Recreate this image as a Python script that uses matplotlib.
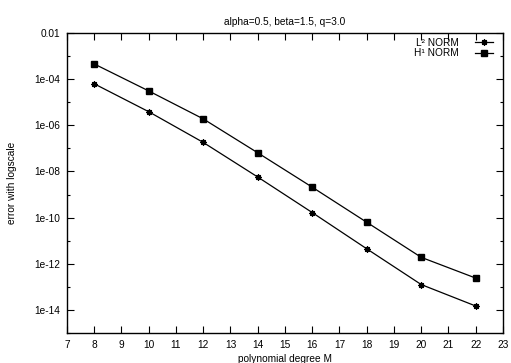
import numpy as np
import matplotlib.pyplot as plt
from matplotlib.ticker import FixedLocator, NullFormatter

plt.rcParams['font.family'] = ['Liberation Sans', 'DejaVu Sans']

# datos
M = [8, 10, 12, 14, 16, 18, 20, 22]
log_l2 = [-4.20, -5.41, -6.74, -8.24, -9.78, -11.35, -12.90, -13.83]
log_h1 = [-3.34, -4.51, -5.72, -7.19, -8.68, -10.20, -11.72, -12.62]

err_l2 = 10.0 ** np.array(log_l2)
err_h1 = 10.0 ** np.array(log_h1)

ytick_vals = [1e-2, 1e-4, 1e-6, 1e-8, 1e-10, 1e-12, 1e-14]
ytick_labels = ["0.01", "1e-04", "1e-06", "1e-08", "1e-10", "1e-12", "1e-14"]

fs = 7.3

fig = plt.figure(figsize=(5.11, 3.63), dpi=100)
ax = fig.add_axes([0.1311, 0.0826, 0.8532, 0.8264])

ax.plot(M, err_l2, color='black', lw=0.9, marker=(8, 2, 0), ms=4.5, mew=0.9,
        label="L² NORM")
ax.plot(M, err_h1, color='black', lw=0.9, marker='s', ms=4,
        label="H¹ NORM")

ax.set_yscale('log')
ax.set_xlim(7, 23)
ax.set_ylim(1e-15, 1e-2)
ax.set_xticks(range(7, 24))
ax.set_yticks(ytick_vals)
ax.set_yticklabels(ytick_labels)
ax.yaxis.set_minor_locator(FixedLocator([1e-3, 1e-5, 1e-7, 1e-9, 1e-11, 1e-13, 1e-15]))
ax.yaxis.set_minor_formatter(NullFormatter())

ax.tick_params(which='both', direction='in', top=True, right=True,
               labelsize=fs, width=0.8, pad=5)
ax.tick_params(which='major', length=5)
ax.tick_params(which='minor', length=2.5)

for s in ax.spines.values():
    s.set_linewidth(1.0)

ax.set_title("alpha=0.5, beta=1.5, q=3.0", fontsize=fs, pad=6)
ax.set_xlabel("polynomial degree M", fontsize=fs, labelpad=3)
ax.set_ylabel("error with logscale", fontsize=fs, labelpad=12)

ax.legend(loc='upper right', bbox_to_anchor=(0.984, 0.995), fontsize=fs,
          frameon=False, markerfirst=False,
          handlelength=1.8, handletextpad=1.6, labelspacing=0.05,
          borderaxespad=0.0, borderpad=0.3)

plt.savefig("out.png", dpi=100)
